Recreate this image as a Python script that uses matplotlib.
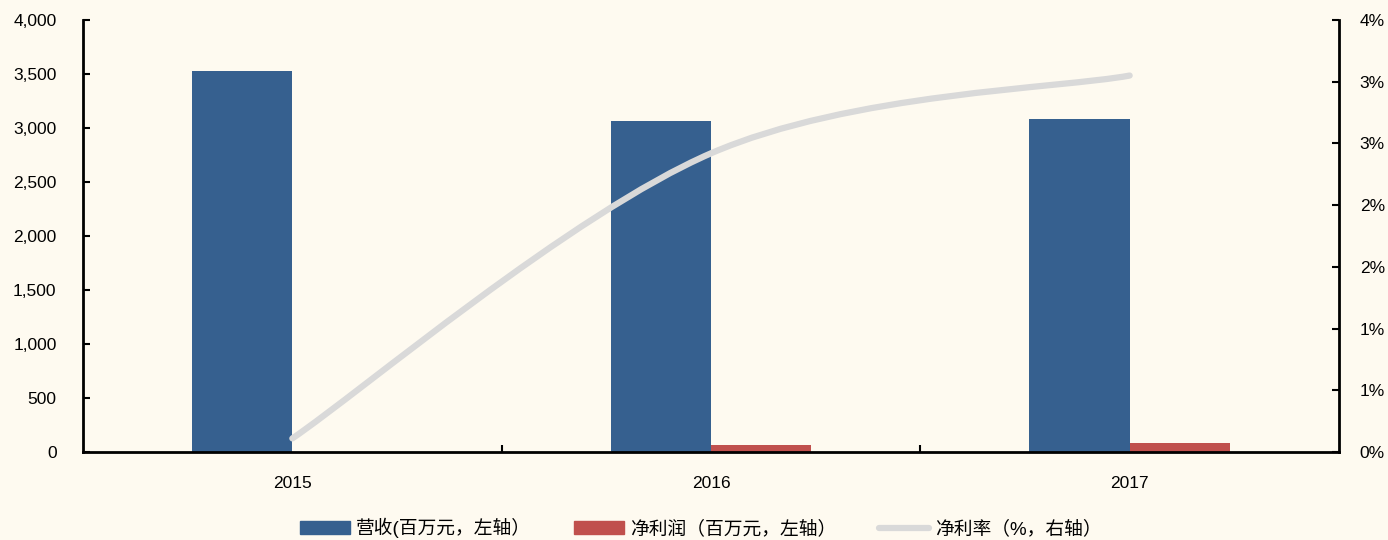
import numpy as np
import matplotlib.pyplot as plt
from matplotlib.path import Path
from matplotlib.patches import PathPatch, Patch
from matplotlib.lines import Line2D
from matplotlib.ticker import FuncFormatter, MultipleLocator

plt.rcParams['font.family'] = ['Liberation Sans', 'Noto Sans CJK SC']

years = ['2015', '2016', '2017']
revenue = [3528, 3065, 3083]        # 营收, 百万元
net_profit = [4, 65, 83]            # 净利润, 百万元
net_margin = [0.11, 2.42, 3.05]     # 净利率, %

bg = '#FEFAF0'
fig = plt.figure(figsize=(13.88, 5.4), dpi=100, facecolor=bg)
ax = fig.add_axes([83 / 1388, 1 - 452 / 540, (1339 - 83) / 1388, 432 / 540])
ax.set_facecolor(bg)

x = np.arange(len(years))
w = 0.24
ax.bar(x - w / 2, revenue, w, color='#36608F', zorder=2)
ax.bar(x + w / 2, net_profit, w, color='#C0504D', zorder=2)

ax.set_xlim(-0.5, 2.5)
ax.set_ylim(0, 4000)
ax.yaxis.set_major_locator(MultipleLocator(500))
ax.yaxis.set_major_formatter(FuncFormatter(lambda v, p: f'{v:,.0f}'))
ax.set_xticks(x)
ax.set_xticklabels(years)
ax.set_xticks([0.5, 1.5], minor=True)
ax.tick_params(axis='x', which='major', length=0, pad=17, labelsize=12.5)
ax.tick_params(axis='x', which='minor', direction='in', length=5, width=1.5)
ax.tick_params(axis='y', direction='in', length=5, width=1.5, pad=19, labelsize=12.5)
for s in ['top', 'right']:
    ax.spines[s].set_visible(False)
for s in ['left', 'bottom']:
    ax.spines[s].set_linewidth(2)

ax2 = ax.twinx()
ax2.set_ylim(0, 3.5)
ax2.yaxis.set_major_locator(MultipleLocator(0.5))
ax2.yaxis.set_major_formatter(FuncFormatter(lambda v, p: f'{int(v + 0.5)}%'))
ax2.tick_params(axis='y', direction='in', length=5, width=1.5, pad=15, labelsize=12.5)
for s in ['top', 'left', 'bottom']:
    ax2.spines[s].set_visible(False)
ax2.spines['right'].set_linewidth(2)

# smoothed line (Catmull-Rom style bezier through the data points)
pts = list(zip(x.astype(float), net_margin))
verts = [pts[0]]
codes = [Path.MOVETO]
for i in range(len(pts) - 1):
    p0 = np.array(pts[max(i - 1, 0)])
    p1 = np.array(pts[i])
    p2 = np.array(pts[i + 1])
    p3 = np.array(pts[min(i + 2, len(pts) - 1)])
    c1 = p1 + (p2 - p0) / 6
    c2 = p2 - (p3 - p1) / 6
    verts += [tuple(c1), tuple(c2), tuple(p2)]
    codes += [Path.CURVE4] * 3
ax2.add_patch(PathPatch(Path(verts, codes), fill=False, edgecolor='#D9D9D9',
                        lw=4.5, capstyle='round', zorder=3))

handles = [Patch(color='#36608F'), Patch(color='#C0504D'),
           Line2D([], [], color='#D9D9D9', lw=4.5, solid_capstyle='round')]
labels = ['营收(百万元，左轴）', '净利润（百万元，左轴）', '净利率（%，右轴）']
fig.legend(handles, labels, loc='center', bbox_to_anchor=(0.505, 1 - 528 / 540),
           ncol=3, frameon=False, fontsize=13.5, handlelength=2.67, handleheight=0.7,
           columnspacing=2.3, handletextpad=0.32)

fig.savefig('out.png', dpi=100, facecolor=bg)
